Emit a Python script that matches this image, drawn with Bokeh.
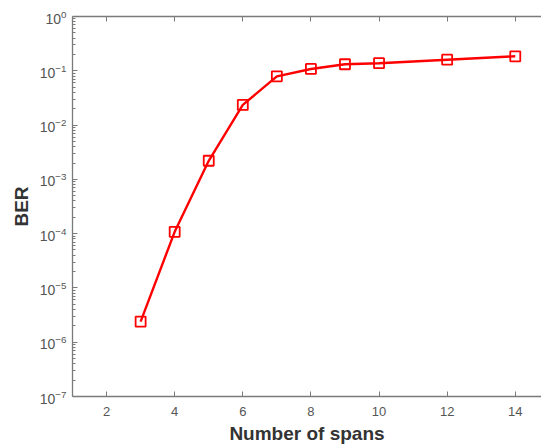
from bokeh.plotting import figure
from bokeh.models import LinearAxis, FixedTicker, Range1d
from bokeh.embed import file_html
from bokeh.resources import INLINE

spans = [3, 4, 5, 6, 7, 8, 9, 10, 12, 14]
ber = [2.4e-6, 1.08e-4, 2.2e-3, 2.35e-2, 7.9e-2, 1.08e-1, 1.32e-1, 1.38e-1, 1.6e-1, 1.85e-1]
x_ticks = [2, 4, 6, 8, 10, 12, 14]
y_ticks = [1e-7, 1e-6, 1e-5, 1e-4, 1e-3, 1e-2, 1e-1, 1e0]
y_minor = [k * d for d in y_ticks[:-1] for k in range(2, 10)]

p = figure(width=541, height=446, y_axis_type="log", output_backend="svg",
           toolbar_location=None, x_range=Range1d(1, 14.77), y_range=Range1d(1e-7, 1e0),
           min_border_left=72, min_border_right=0, min_border_top=16, min_border_bottom=49)
p.background_fill_color = "white"
p.border_fill_color = "white"
p.grid.visible = False
p.outline_line_color = None

ax_col = "#7a7a7a"
lab_col = "#555555"
font = "Liberation Sans"

xa = p.xaxis[0]
xa.ticker = FixedTicker(ticks=x_ticks)
xa.axis_label = "Number of spans"
ya = p.yaxis[0]
ya.ticker = FixedTicker(ticks=y_ticks, minor_ticks=y_minor)
ya.axis_label = "BER"

for a in (xa, ya):
    a.axis_line_color = ax_col
    a.axis_line_width = 1.3
    a.major_tick_line_color = ax_col
    a.minor_tick_line_color = ax_col
    a.major_tick_in = 5
    a.major_tick_out = 0
    a.minor_tick_in = 3
    a.minor_tick_out = 0
    a.major_label_text_color = lab_col
    a.major_label_text_font = font
    a.major_label_text_font_size = "14px"
    a.axis_label_text_color = "#333333"
    a.axis_label_text_font = font
    a.axis_label_text_font_style = "bold"
    a.axis_label_text_font_size = "19px"
xa.minor_tick_line_color = None
xa.major_label_text_font_size = "13px"
xa.major_label_standoff = 10
xa.axis_label_standoff = 4
ya.major_label_standoff = 6
ya.axis_label_standoff = 5

top = LinearAxis(ticker=FixedTicker(ticks=x_ticks), major_label_text_color=None,
                 major_label_text_font_size="13px", axis_line_width=1.3,
                 axis_line_color=ax_col, major_tick_line_color=ax_col,
                 major_tick_in=5, major_tick_out=0, minor_tick_line_color=None,
                 major_label_standoff=0)
p.add_layout(top, "above")

p.line(spans, ber, line_color="#ff0000", line_width=2.4)
p.scatter(spans, ber, marker="square", size=10, fill_color=None,
          line_color="#ff0000", line_width=1.8)

open("out.html", "w").write(file_html(p, INLINE))
